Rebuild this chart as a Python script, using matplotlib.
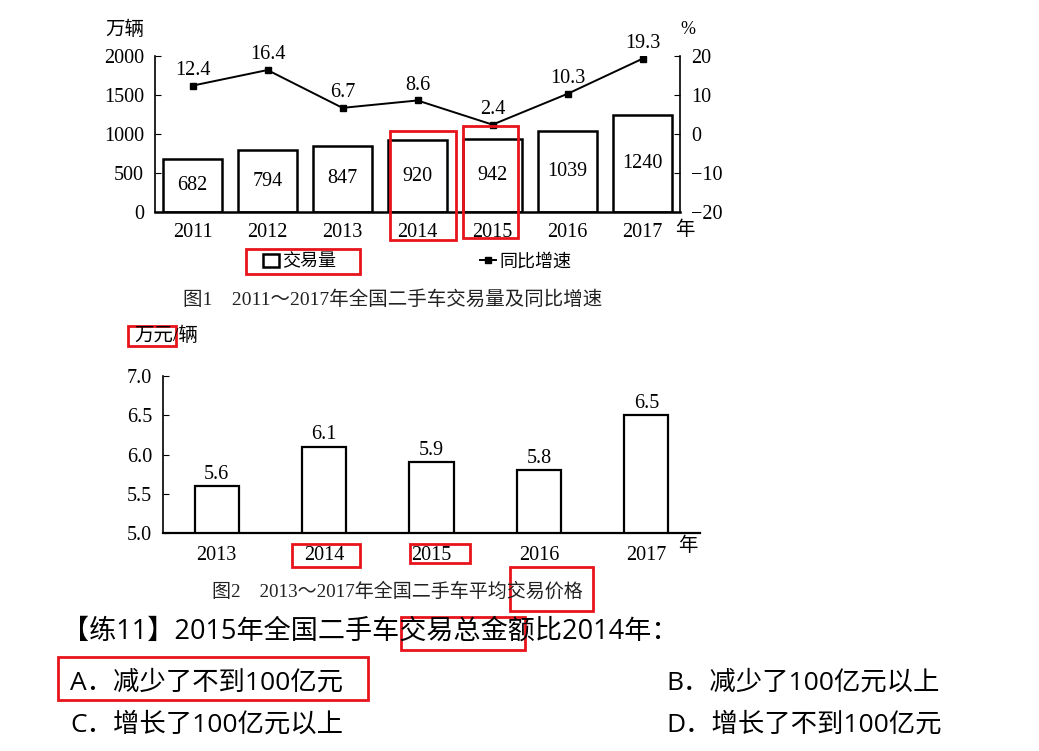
import matplotlib.pyplot as plt
from matplotlib.patches import Rectangle

plt.rcParams['font.family'] = ['Liberation Serif', 'Noto Sans CJK SC']

# 图1 数据
years1 = ['2011', '2012', '2013', '2014', '2015', '2016', '2017']
volume = [682, 794, 847, 920, 942, 1039, 1240]        # 万辆
growth = [12.4, 16.4, 6.7, 8.6, 2.4, 10.3, 19.3]      # %

# 图2 数据
years2 = ['2013', '2014', '2015', '2016', '2017']
price = [5.6, 6.1, 5.9, 5.8, 6.5]                     # 万元/辆

question = '【练11】2015年全国二手车交易总金额比2014年：'
options = ['A．减少了不到100亿元', 'B．减少了100亿元以上',
           'C．增长了100亿元以上', 'D．增长了不到100亿元']

W, H = 1039, 751
fig = plt.figure(figsize=(W / 100, H / 100), dpi=100)


def fbox(x0, y0, x1, y1):
    # пиксели картинки -> доли фигуры
    return [x0 / W, 1 - y1 / H, (x1 - x0) / W, (y1 - y0) / H]


def fxy(x, y):
    return x / W, 1 - y / H


# ---------- 图1 ----------
ax1 = fig.add_axes(fbox(155, 56, 680, 212))
x1 = list(range(len(years1)))
bars = ax1.bar(x1, volume, width=0.78, color='white', edgecolor='black',
               linewidth=1.8, label='交易量')
for i, v in enumerate(volume):
    ax1.text(i, v / 2, str(v), ha='center', va='center', fontsize=14.5)
ax1.set_xlim(-0.5, len(years1) - 0.5)
ax1.set_ylim(0, 2000)
ax1.set_yticks(range(0, 2001, 500))
ax1.set_xticks(x1)
ax1.set_xticklabels(years1)
ax1.tick_params(axis='x', length=0, pad=8, labelsize=14.5)
ax1.tick_params(axis='y', direction='in', length=4, pad=8, labelsize=14.5)
ax1.spines[['top', 'right']].set_visible(False)
ax1.spines['bottom'].set_linewidth(1.8)
ax1.spines['left'].set_linewidth(1.2)

ax1b = ax1.twinx()
line, = ax1b.plot(x1, growth, color='black', marker='s', markersize=5,
                  linewidth=1.4, label='同比增速')
for i, g in enumerate(growth):
    ax1b.annotate(f'{g}', (i, g), textcoords='offset points', xytext=(0, 11),
                  ha='center', va='center', fontsize=14.5)
ax1b.set_ylim(-20, 20)
ax1b.set_yticks(range(-20, 21, 10))
ax1b.tick_params(axis='y', direction='in', length=4, pad=8, labelsize=14.5)
ax1b.spines[['top', 'left', 'bottom']].set_visible(False)
ax1b.spines['right'].set_linewidth(1.2)

fig.text(*fxy(125, 30), '万辆', ha='center', va='center', fontsize=14)
fig.text(*fxy(688, 30), '%', ha='center', va='center', fontsize=13)
ax1.text(1.01, -0.115, '年', transform=ax1.transAxes, ha='center', va='center', fontsize=14)

fig.legend([bars.patches[0], line], ['交易量', '同比增速'], loc='center',
           bbox_to_anchor=fxy(417, 262), ncol=2, frameon=False,
           columnspacing=8.0, handlelength=0.9, handletextpad=0.15, fontsize=13)

fig.text(*fxy(393, 300), '图1　2011～2017年全国二手车交易量及同比增速',
         ha='center', va='center', fontsize=14, color='#222222')

# ---------- 图2 ----------
ax2 = fig.add_axes(fbox(163, 376, 700, 533))
x2 = list(range(len(years2)))
ax2.bar(x2, price, width=0.41, color='white', edgecolor='black', linewidth=1.6)
for i, p in enumerate(price):
    ax2.annotate(f'{p}', (i, p), textcoords='offset points', xytext=(0, 8.5),
                 ha='center', va='center', fontsize=14.5)
ax2.set_xlim(-0.5, len(years2) - 0.5)
ax2.set_ylim(5.0, 7.0)
ax2.set_yticks([5.0, 5.5, 6.0, 6.5, 7.0])
ax2.set_yticklabels(['5.0', '5.5', '6.0', '6.5', '7.0'])
ax2.set_xticks(x2)
ax2.set_xticklabels(years2)
ax2.tick_params(axis='x', length=0, pad=9, labelsize=14.5)
ax2.tick_params(axis='y', direction='in', length=4, pad=8, labelsize=14.5)
ax2.spines[['top', 'right']].set_visible(False)
ax2.spines['bottom'].set_linewidth(1.6)
ax2.spines['left'].set_linewidth(1.2)

fig.text(*fxy(134, 336), '万元/辆', ha='left', va='center', fontsize=14)
ax2.text(0.977, -0.08, '年', transform=ax2.transAxes, ha='center', va='center', fontsize=14)
fig.text(*fxy(397, 592), '图2　2013～2017年全国二手车平均交易价格',
         ha='center', va='center', fontsize=13.7, color='#222222')

# ---------- 题目 ----------
qfont = ['Open Sans', 'Noto Sans CJK SC']
fig.text(*fxy(62, 632), question, ha='left', va='center', fontsize=19.5, family=qfont)
opt_pos = [(70, 683), (666, 683), (70, 725), (666, 725)]
for (ox, oy), s in zip(opt_pos, options):
    fig.text(*fxy(ox, oy), s, ha='left', va='center', fontsize=19, family=qfont)

# ---------- 红框 ----------
red_boxes = [(390, 131, 456, 240), (463, 126, 518, 238), (246, 249, 360, 274),
             (128, 326, 176, 346), (292, 544, 360, 567), (410, 544, 470, 563),
             (510, 567, 593, 611), (401, 617, 525, 650), (58, 657, 368, 700)]
for x0, y0, x1_, y1_ in red_boxes:
    fig.add_artist(Rectangle(fxy(x0, y1_), (x1_ - x0) / W, (y1_ - y0) / H,
                             transform=fig.transFigure, fill=False,
                             edgecolor='#e8141c', linewidth=2))

fig.savefig('out.png', dpi=100)
